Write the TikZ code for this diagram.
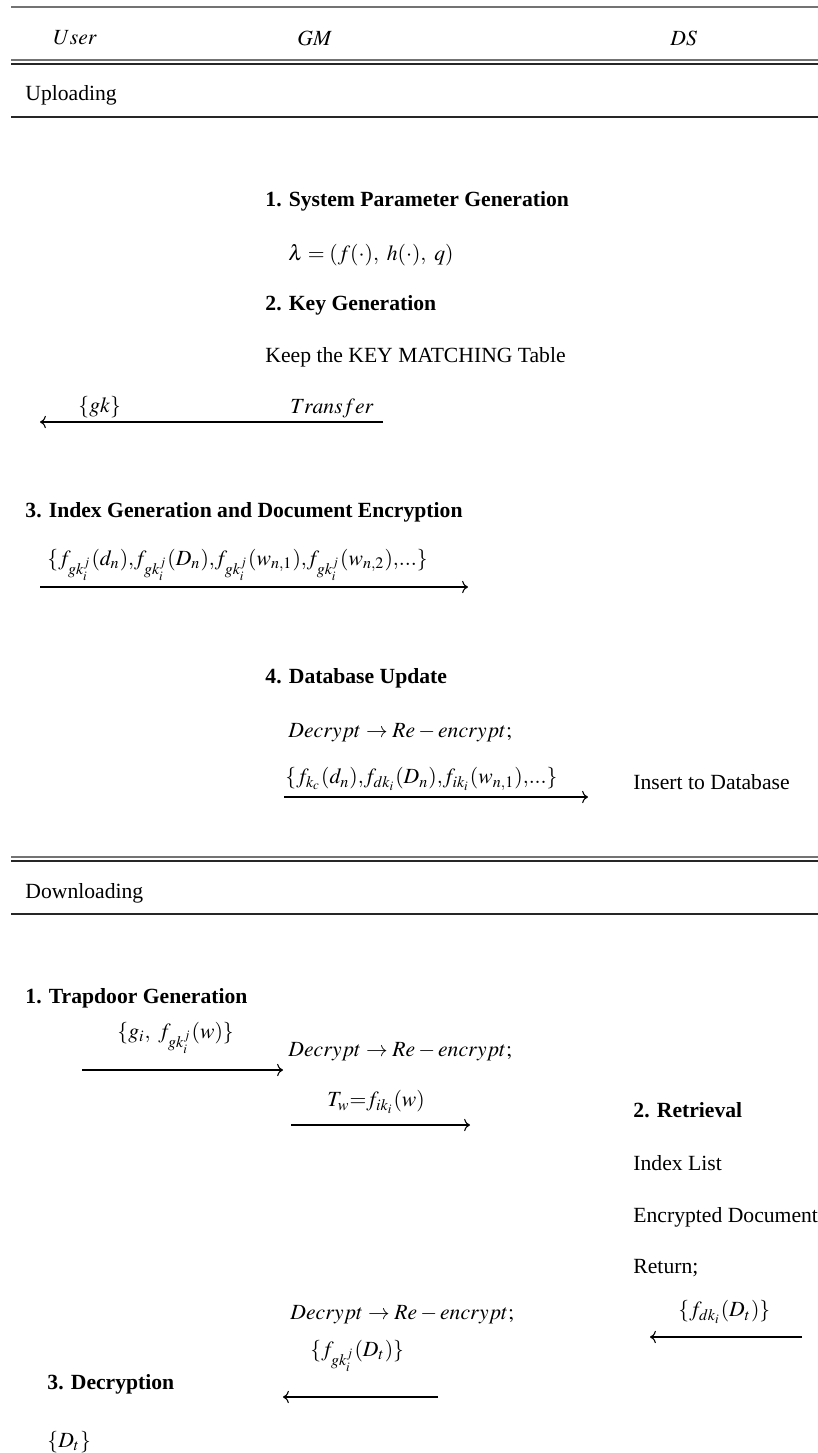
\documentclass[tikz,border=0pt]{standalone}
\usepackage{mathptmx}
\usepackage[no-math]{fontspec}
\setmainfont{Liberation Serif}
\usetikzlibrary{arrows.meta}

\begin{document}
\begin{tikzpicture}[
  x=0.462pt, y=-0.462pt, >=To,
  txt/.style={anchor=west,inner sep=0pt},
  hdr/.style={txt,font=\bfseries},
  rule/.style={line width=0.6pt,draw=black!85},
  lrule/.style={rule,draw=black!55},
  flow/.style={->,line width=0.5pt},
]
\useasboundingbox (0,0) rectangle (818,1453);
% table head
\draw[lrule] (11,7) -- (818,7);
\node[txt] (user) at (53,38) {$User$};
\node[txt] (gm) at (297,38) {$GM$};
\node[txt] (ds) at (670,38) {$DS$};
\draw[lrule] (11,60) -- (818,60);
\draw[rule] (11,64) -- (818,64);
% uploading
\node[txt] (up) at (25,95) {Uploading};
\draw[rule] (11,117) -- (818,117);
\node[hdr] (s1) at (265,201) {1. System Parameter Generation};
\node[txt] (lam) at (288,255) {$\lambda=(f(\cdot),\ h(\cdot),\ q)$};
\node[hdr] (s2) at (265,305) {2. Key Generation};
\node[txt] (keep) at (265,357) {Keep the KEY MATCHING Table};
\coordinate (gkA) at (383,422);
\coordinate (gkB) at (40,422);
\draw[flow] (gkA) -- (gkB);
\node[txt] (gk) at (78,407) {$\{gk\}$};
\node[txt] (tr) at (290,408) {$Transfer$};
\node[hdr] (s3) at (25,512) {3. Index Generation and Document Encryption};
\node[txt] (idx) at (47,565)
  {$\{f_{gk_i^j}(d_n){,}f_{gk_i^j}(D_n){,}f_{gk_i^j}(w_{n,1}){,}f_{gk_i^j}(w_{n,2}){,}...\}$};
\coordinate (idxA) at (40,587);
\coordinate (idxB) at (468,587);
\draw[flow] (idxA) -- (idxB);
\node[hdr] (s4) at (265,678) {4. Database Update};
\node[txt] (dec1) at (288,733) {$Decrypt\rightarrow Re-encrypt;$};
\node[txt] (upd) at (285,779) {$\{f_{k_c}(d_n){,}f_{dk_i}(D_n){,}f_{ik_i}(w_{n,1}){,}...\}$};
\coordinate (updA) at (284,797);
\coordinate (updB) at (588,797);
\draw[flow] (updA) -- (updB);
\node[txt] (ins) at (633,782) {Insert to Database};
\draw[lrule] (11,857) -- (818,857);
\draw[rule] (11,861) -- (818,861);
% downloading
\node[txt] (down) at (25,893) {Downloading};
\draw[rule] (11,914) -- (818,914);
\node[hdr] (t1) at (25,998) {1. Trapdoor Generation};
\node[txt] (gw) at (117,1038) {$\{g_i,\ f_{gk_i^j}(w)\}$};
\coordinate (gwA) at (82,1070);
\coordinate (gwB) at (283,1070);
\draw[flow] (gwA) -- (gwB);
\node[txt] (dec2) at (288,1052) {$Decrypt\rightarrow Re-encrypt;$};
\node[txt] (tw) at (327,1102) {$T_w{=}f_{ik_i}(w)$};
\coordinate (twA) at (291,1125);
\coordinate (twB) at (470,1125);
\draw[flow] (twA) -- (twB);
\node[hdr] (t2) at (633,1110) {2. Retrieval};
\node[txt] (il) at (633,1163) {Index List};
\node[txt] (ed) at (633,1217) {Encrypted Document};
\node[txt] (ret) at (633,1268) {Return;};
\node[txt] (fdk) at (678,1312) {$\{f_{dk_i}(D_t)\}$};
\coordinate (fdkA) at (802,1337);
\coordinate (fdkB) at (650,1337);
\draw[flow] (fdkA) -- (fdkB);
\node[txt] (dec3) at (290,1315) {$Decrypt\rightarrow Re-encrypt;$};
\node[txt] (fgk) at (310,1356) {$\{f_{gk_i^j}(D_t)\}$};
\coordinate (fgkA) at (438,1397);
\coordinate (fgkB) at (283,1397);
\draw[flow] (fgkA) -- (fgkB);
\node[hdr] (t3) at (47,1384) {3. Decryption};
\node[txt] (dt) at (47,1442) {$\{D_t\}$};
\end{tikzpicture}
\end{document}
